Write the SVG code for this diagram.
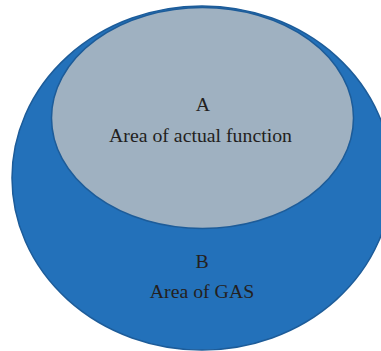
<svg xmlns="http://www.w3.org/2000/svg" width="381" height="351" viewBox="0 0 381 351">
<style>
text{font-family:"Liberation Serif","DejaVu Serif",serif;font-size:19.8px;fill:#231f20;text-anchor:middle}
</style>
<rect width="381" height="351" fill="#ffffff"/>
<g id="B">
<ellipse cx="202" cy="178" rx="190" ry="172" fill="#2371ba" stroke="#1d5c99" stroke-width="1.5"/>
<text x="202" y="268">B</text>
<text x="202" y="298">Area of GAS</text>
</g>
<g id="A">
<ellipse cx="202.5" cy="118" rx="151" ry="110.5" fill="#9fb1c1" stroke="#1d5c99" stroke-width="1.5"/>
<text x="203" y="111">A</text>
<text x="200.5" y="142">Area of actual function</text>
</g>
<g id="connectors"/>
</svg>
